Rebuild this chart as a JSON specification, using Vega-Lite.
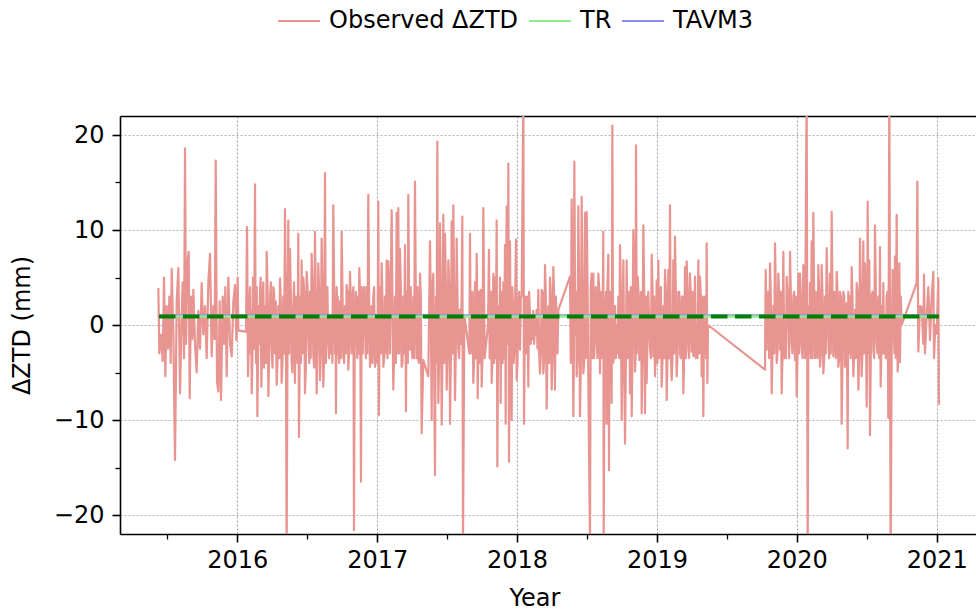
{
  "$schema": "https://vega.github.io/schema/vega-lite/v6.json",
  "width": 856,
  "height": 418,
  "autosize": {"type": "none"},
  "padding": {"left": 120, "top": 116, "right": 0, "bottom": 80},
  "background": "white",
  "config": {
    "view": {"stroke": null},
    "font": "DejaVu Sans",
    "axis": {"labelFont": "DejaVu Sans", "titleFont": "DejaVu Sans", "labelColor": "#000", "titleColor": "#000", "titleFontWeight": "normal", "domainColor": "#000", "tickColor": "#000"}
  },
  "datasets": {
    "obs": [
      {"year":2015.4356,"dztd":3.9},{"year":2015.4427,"dztd":-3.0},{"year":2015.4546,"dztd":-1.0},{"year":2015.4666,"dztd":-3.8},{"year":2015.4761,"dztd":5.0},{"year":2015.4856,"dztd":-5.4},{"year":2015.4952,"dztd":2.0},{"year":2015.5047,"dztd":-2.5},{"year":2015.5142,"dztd":3.0},{"year":2015.5238,"dztd":-4.0},{"year":2015.5309,"dztd":5.9},{"year":2015.5428,"dztd":-1.0},{"year":2015.5547,"dztd":-14.2},{"year":2015.5667,"dztd":2.5},{"year":2015.5786,"dztd":6.0},{"year":2015.5905,"dztd":-7.2},{"year":2015.6024,"dztd":1.0},{"year":2015.6096,"dztd":4.5},{"year":2015.6191,"dztd":-3.5},{"year":2015.6262,"dztd":18.6},{"year":2015.6334,"dztd":-2.0},{"year":2015.6429,"dztd":6.5},{"year":2015.6525,"dztd":7.7},{"year":2015.6596,"dztd":-7.7},{"year":2015.6691,"dztd":3.0},{"year":2015.6787,"dztd":-1.5},{"year":2015.6858,"dztd":3.7},{"year":2015.6977,"dztd":-2.0},{"year":2015.7096,"dztd":-5.0},{"year":2015.7216,"dztd":1.5},{"year":2015.7335,"dztd":-2.5},{"year":2015.7454,"dztd":4.4},{"year":2015.7573,"dztd":-1.0},{"year":2015.7692,"dztd":2.0},{"year":2015.7811,"dztd":-3.5},{"year":2015.7931,"dztd":4.5},{"year":2015.8050,"dztd":7.5},{"year":2015.8169,"dztd":-3.3},{"year":2015.8288,"dztd":2.0},{"year":2015.8383,"dztd":-1.5},{"year":2015.8455,"dztd":17.3},{"year":2015.8550,"dztd":-6.0},{"year":2015.8646,"dztd":-7.0},{"year":2015.8741,"dztd":2.5},{"year":2015.8836,"dztd":-7.9},{"year":2015.8955,"dztd":3.0},{"year":2015.9051,"dztd":-2.0},{"year":2015.9146,"dztd":4.0},{"year":2015.9241,"dztd":-5.4},{"year":2015.9361,"dztd":5.0},{"year":2015.9480,"dztd":-2.0},{"year":2015.9599,"dztd":-3.3},{"year":2015.9718,"dztd":2.5},{"year":2015.9837,"dztd":4.2},{"year":2015.9932,"dztd":-1.6},{"year":2016.0028,"dztd":5.0},{"year":2016.0075,"dztd":-0.6},{"year":2016.0624,"dztd":-0.7},{"year":2016.0695,"dztd":10.3},{"year":2016.0766,"dztd":-5.4},{"year":2016.0862,"dztd":2.0},{"year":2016.0957,"dztd":-3.0},{"year":2016.1029,"dztd":-7.2},{"year":2016.1124,"dztd":5.0},{"year":2016.1196,"dztd":-2.5},{"year":2016.1267,"dztd":14.8},{"year":2016.1339,"dztd":-4.0},{"year":2016.1434,"dztd":-9.6},{"year":2016.1529,"dztd":2.0},{"year":2016.1625,"dztd":3.7},{"year":2016.1720,"dztd":-6.5},{"year":2016.1815,"dztd":3.0},{"year":2016.1911,"dztd":-4.5},{"year":2016.2006,"dztd":2.0},{"year":2016.2101,"dztd":7.7},{"year":2016.2220,"dztd":-7.5},{"year":2016.2340,"dztd":3.0},{"year":2016.2459,"dztd":-2.5},{"year":2016.2578,"dztd":4.0},{"year":2016.2697,"dztd":-3.0},{"year":2016.2816,"dztd":-6.3},{"year":2016.2935,"dztd":2.0},{"year":2016.3054,"dztd":4.9},
      {"year":2016.3169,"dztd":-6.1},{"year":2016.3288,"dztd":3.0},{"year":2016.3407,"dztd":12.2},{"year":2016.3527,"dztd":-24},{"year":2016.3646,"dztd":11.0},{"year":2016.3765,"dztd":8.0},{"year":2016.3884,"dztd":-4.0},{"year":2016.4003,"dztd":2.0},{"year":2016.4122,"dztd":-6.1},{"year":2016.4242,"dztd":-2.0},{"year":2016.4361,"dztd":9.6},{"year":2016.4408,"dztd":-11.8},{"year":2016.4504,"dztd":3.0},{"year":2016.4599,"dztd":6.8},{"year":2016.4718,"dztd":5.0},{"year":2016.4837,"dztd":-7.2},{"year":2016.4957,"dztd":5.6},{"year":2016.5076,"dztd":-1.0},{"year":2016.5195,"dztd":3.5},{"year":2016.5314,"dztd":7.5},{"year":2016.5433,"dztd":-3.0},{"year":2016.5552,"dztd":9.8},{"year":2016.5672,"dztd":-7.2},{"year":2016.5791,"dztd":6.5},{"year":2016.5910,"dztd":-5.8},{"year":2016.6029,"dztd":9.1},{"year":2016.6148,"dztd":-6.5},{"year":2016.6267,"dztd":16.0},{"year":2016.6386,"dztd":3.0},{"year":2016.6506,"dztd":-2.0},{"year":2016.6625,"dztd":0.9},{"year":2016.6744,"dztd":1.0},{"year":2016.6863,"dztd":12.6},{"year":2016.6982,"dztd":-3.0},{"year":2016.7054,"dztd":-9.3},{"year":2016.7149,"dztd":2.0},{"year":2016.7221,"dztd":-2.6},{"year":2016.7340,"dztd":2.5},{"year":2016.7459,"dztd":9.8},{"year":2016.7578,"dztd":-3.3},{"year":2016.7697,"dztd":2.0},{"year":2016.7816,"dztd":4.2},{"year":2016.7936,"dztd":-4.7},{"year":2016.8055,"dztd":5.6},{"year":2016.8174,"dztd":-3.0},{"year":2016.8245,"dztd":3.0},{"year":2016.8341,"dztd":-21.6},{"year":2016.8436,"dztd":1.0},{"year":2016.8531,"dztd":0.0},{"year":2016.8627,"dztd":3.0},{"year":2016.8722,"dztd":6.0},{"year":2016.8841,"dztd":-16.5},{"year":2016.8937,"dztd":2.0},{"year":2016.9008,"dztd":2.5},{"year":2016.9127,"dztd":0.0},{"year":2016.9246,"dztd":4.0},{"year":2016.9365,"dztd":13.7},{"year":2016.9485,"dztd":-4.4},{"year":2016.9604,"dztd":2.0},{"year":2016.9723,"dztd":3.0},{"year":2016.9842,"dztd":-4.4},{"year":2016.9961,"dztd":1.0},{"year":2017.0080,"dztd":13.0},{"year":2017.0128,"dztd":-9.5},{"year":2017.0223,"dztd":2.0},{"year":2017.0319,"dztd":6.5},{"year":2017.0438,"dztd":-4.4},{"year":2017.0557,"dztd":3.0},{"year":2017.0676,"dztd":6.8},{"year":2017.0795,"dztd":6.7},{"year":2017.0915,"dztd":-3.0},{"year":2017.1034,"dztd":12.1},{"year":2017.1153,"dztd":-6.8},{"year":2017.1272,"dztd":3.0},{"year":2017.1391,"dztd":11.8},{"year":2017.1510,"dztd":12.3},{"year":2017.1630,"dztd":8.0},{"year":2017.1749,"dztd":-4.4},{"year":2017.1868,"dztd":3.0},{"year":2017.1987,"dztd":8.4},{"year":2017.2058,"dztd":-9.1},{"year":2017.2154,"dztd":2.0},{"year":2017.2225,"dztd":13.7},{"year":2017.2344,"dztd":-2.6},
      {"year":2017.2465,"dztd":-2.3},{"year":2017.2584,"dztd":3.0},{"year":2017.2703,"dztd":15.1},{"year":2017.2823,"dztd":-3.5},{"year":2017.2942,"dztd":-3.7},{"year":2017.3061,"dztd":5.4},{"year":2017.3180,"dztd":-11.4},{"year":2017.3299,"dztd":-3.7},{"year":2017.3657,"dztd":-5.4},{"year":2017.3776,"dztd":8.8},{"year":2017.3895,"dztd":-10.0},{"year":2017.4014,"dztd":5.4},{"year":2017.4133,"dztd":-15.8},{"year":2017.4205,"dztd":3.0},{"year":2017.4300,"dztd":19.3},{"year":2017.4372,"dztd":-8.2},{"year":2017.4491,"dztd":10.7},{"year":2017.4610,"dztd":-10.5},{"year":2017.4729,"dztd":11.6},{"year":2017.4848,"dztd":9.6},{"year":2017.4968,"dztd":-6.8},{"year":2017.5087,"dztd":6.8},{"year":2017.5206,"dztd":-10.4},{"year":2017.5325,"dztd":10.9},{"year":2017.5444,"dztd":12.6},{"year":2017.5563,"dztd":-7.9},{"year":2017.5682,"dztd":9.1},{"year":2017.5802,"dztd":-2.6},{"year":2017.5921,"dztd":1.6},{"year":2017.6040,"dztd":3.0},{"year":2017.6088,"dztd":11.4},{"year":2017.6135,"dztd":-23},{"year":2017.6231,"dztd":1.0},{"year":2017.6326,"dztd":0.0},{"year":2017.6588,"dztd":-3.0},{"year":2017.6636,"dztd":9.6},{"year":2017.6755,"dztd":2.0},{"year":2017.6874,"dztd":-6.1},{"year":2017.6993,"dztd":4.5},{"year":2017.7112,"dztd":7.5},{"year":2017.7184,"dztd":-7.7},{"year":2017.7279,"dztd":3.5},{"year":2017.7398,"dztd":3.7},{"year":2017.7470,"dztd":-6.5},{"year":2017.7589,"dztd":12.3},{"year":2017.7684,"dztd":-3.5},{"year":2017.7923,"dztd":0.0},{"year":2017.7994,"dztd":7.9},{"year":2017.8090,"dztd":2.0},{"year":2017.8185,"dztd":-6.1},{"year":2017.8304,"dztd":5.4},{"year":2017.8423,"dztd":5.0},{"year":2017.8542,"dztd":11.0},{"year":2017.8590,"dztd":-14.9},{"year":2017.8685,"dztd":2.0},{"year":2017.8781,"dztd":5.0},{"year":2017.8828,"dztd":-8.2},{"year":2017.8924,"dztd":2.0},{"year":2017.9019,"dztd":4.5},{"year":2017.9138,"dztd":8.4},{"year":2017.9186,"dztd":-10.4},{"year":2017.9257,"dztd":12.5},{"year":2017.9329,"dztd":-2.0},{"year":2017.9376,"dztd":17.0},{"year":2017.9424,"dztd":-14.4},{"year":2017.9496,"dztd":8.8},{"year":2017.9615,"dztd":-10.0},{"year":2017.9710,"dztd":2.0},{"year":2017.9805,"dztd":-3.0},{"year":2017.9925,"dztd":9.0},{"year":2017.9972,"dztd":-5.8},{"year":2018.0091,"dztd":2.0},{"year":2018.0211,"dztd":-2.6},{"year":2018.0330,"dztd":3.0},{"year":2018.0449,"dztd":24},{"year":2018.0497,"dztd":-10.4},{"year":2018.0592,"dztd":3.0},{"year":2018.0687,"dztd":2.3},{"year":2018.0806,"dztd":-6.5},{"year":2018.0926,"dztd":1.0},{"year":2018.1045,"dztd":0.9},{"year":2018.1164,"dztd":1.5},{"year":2018.1283,"dztd":0.5},{"year":2018.1402,"dztd":1.6},{"year":2018.1521,"dztd":3.7},
      {"year":2018.1640,"dztd":-5.1},{"year":2018.1759,"dztd":3.7},{"year":2018.1878,"dztd":-5.1},{"year":2018.1997,"dztd":6.3},{"year":2018.2117,"dztd":-8.8},{"year":2018.2236,"dztd":2.0},{"year":2018.2355,"dztd":5.0},{"year":2018.2474,"dztd":-6.8},{"year":2018.2593,"dztd":6.1},{"year":2018.2712,"dztd":-6.8},{"year":2018.2832,"dztd":1.0},{"year":2018.2951,"dztd":1.6},{"year":2018.3785,"dztd":5.1},{"year":2018.3904,"dztd":13.2},{"year":2018.4023,"dztd":-9.6},{"year":2018.4095,"dztd":17.2},{"year":2018.4190,"dztd":-1.0},{"year":2018.4262,"dztd":-5.4},{"year":2018.4381,"dztd":12.5},{"year":2018.4500,"dztd":-9.6},{"year":2018.4619,"dztd":13.5},{"year":2018.4738,"dztd":-5.1},{"year":2018.4857,"dztd":11.8},{"year":2018.4976,"dztd":11.9},{"year":2018.5096,"dztd":-5.8},{"year":2018.5215,"dztd":-23},{"year":2018.5334,"dztd":5.4},{"year":2018.5453,"dztd":5.4},{"year":2018.5572,"dztd":2.0},{"year":2018.5691,"dztd":-2.0},{"year":2018.5811,"dztd":5.4},{"year":2018.5930,"dztd":-5.1},{"year":2018.6049,"dztd":-2.6},{"year":2018.6168,"dztd":9.8},{"year":2018.6192,"dztd":-23},{"year":2018.6311,"dztd":2.0},{"year":2018.6406,"dztd":-10.4},{"year":2018.6526,"dztd":7.4},{"year":2018.6573,"dztd":-15.3},{"year":2018.6669,"dztd":2.0},{"year":2018.6764,"dztd":-8.2},{"year":2018.6812,"dztd":21.0},{"year":2018.6883,"dztd":-4.0},{"year":2018.7002,"dztd":2.0},{"year":2018.7121,"dztd":0.0},{"year":2018.7241,"dztd":3.0},{"year":2018.7360,"dztd":8.4},{"year":2018.7479,"dztd":-10.0},{"year":2018.7598,"dztd":6.8},{"year":2018.7717,"dztd":-12.5},{"year":2018.7836,"dztd":6.8},{"year":2018.7955,"dztd":2.0},{"year":2018.8075,"dztd":-7.2},{"year":2018.8194,"dztd":-9.6},{"year":2018.8313,"dztd":10.0},{"year":2018.8432,"dztd":-4.9},{"year":2018.8504,"dztd":18.9},{"year":2018.8623,"dztd":5.1},{"year":2018.8742,"dztd":-3.7},{"year":2018.8837,"dztd":3.0},{"year":2018.8909,"dztd":-9.3},{"year":2018.9028,"dztd":10.5},{"year":2018.9147,"dztd":-9.3},{"year":2018.9266,"dztd":-6.1},{"year":2018.9505,"dztd":-2.5},{"year":2018.9624,"dztd":7.4},{"year":2018.9743,"dztd":-3.3},{"year":2018.9862,"dztd":-5.4},{"year":2018.9981,"dztd":4.7},{"year":2019.0100,"dztd":6.8},{"year":2019.0220,"dztd":1.0},{"year":2019.0339,"dztd":-6.5},{"year":2019.0458,"dztd":2.0},{"year":2019.0577,"dztd":5.8},{"year":2019.0696,"dztd":-7.9},{"year":2019.0815,"dztd":5.8},{"year":2019.0934,"dztd":12.6},
      {"year":2019.1053,"dztd":-5.8},{"year":2019.1172,"dztd":6.8},{"year":2019.1291,"dztd":9.3},{"year":2019.1411,"dztd":-5.4},{"year":2019.1530,"dztd":3.5},{"year":2019.1649,"dztd":-3.0},{"year":2019.1768,"dztd":3.0},{"year":2019.1887,"dztd":-7.2},{"year":2019.2006,"dztd":6.1},{"year":2019.2126,"dztd":6.7},{"year":2019.2245,"dztd":-2.5},{"year":2019.2364,"dztd":5.4},{"year":2019.2483,"dztd":-2.8},{"year":2019.2602,"dztd":-3.3},{"year":2019.2721,"dztd":5.1},{"year":2019.2841,"dztd":0.0},{"year":2019.2960,"dztd":6.8},{"year":2019.3079,"dztd":5.1},{"year":2019.3198,"dztd":-5.4},{"year":2019.3317,"dztd":-9.6},{"year":2019.3389,"dztd":2.6},{"year":2019.3484,"dztd":-2.0},{"year":2019.3556,"dztd":8.6},{"year":2019.3603,"dztd":-6.1},{"year":2019.3651,"dztd":0.0},{"year":2019.7726,"dztd":-4.7},{"year":2019.7774,"dztd":5.8},{"year":2019.7845,"dztd":-2.6},{"year":2019.7964,"dztd":3.5},{"year":2019.8084,"dztd":6.5},{"year":2019.8203,"dztd":-7.2},{"year":2019.8322,"dztd":2.0},{"year":2019.8441,"dztd":8.6},{"year":2019.8560,"dztd":-4.0},{"year":2019.8679,"dztd":5.4},{"year":2019.8799,"dztd":-2.6},{"year":2019.8918,"dztd":-7.2},{"year":2019.9037,"dztd":7.7},{"year":2019.9156,"dztd":0.0},{"year":2019.9275,"dztd":5.1},{"year":2019.9394,"dztd":0.5},{"year":2019.9514,"dztd":7.7},{"year":2019.9633,"dztd":-2.0},{"year":2019.9752,"dztd":3.0},{"year":2019.9871,"dztd":-3.7},{"year":2019.9990,"dztd":-7.5},{"year":2020.0109,"dztd":5.4},{"year":2020.0228,"dztd":5.4},
      {"year":2020.0346,"dztd":-2.3},{"year":2020.0465,"dztd":6.3},{"year":2020.0584,"dztd":-3.5},{"year":2020.0704,"dztd":25},{"year":2020.0775,"dztd":-25},{"year":2020.0870,"dztd":2.0},{"year":2020.0942,"dztd":4.4},{"year":2020.1061,"dztd":8.8},{"year":2020.1180,"dztd":11.8},{"year":2020.1299,"dztd":-3.5},{"year":2020.1419,"dztd":-3.0},{"year":2020.1538,"dztd":6.3},{"year":2020.1657,"dztd":-4.4},{"year":2020.1776,"dztd":6.3},{"year":2020.1895,"dztd":-5.1},{"year":2020.2014,"dztd":3.0},{"year":2020.2134,"dztd":8.1},{"year":2020.2253,"dztd":-1.6},{"year":2020.2372,"dztd":5.4},{"year":2020.2491,"dztd":11.9},{"year":2020.2610,"dztd":-3.3},{"year":2020.2729,"dztd":-0.7},{"year":2020.2849,"dztd":5.6},{"year":2020.2968,"dztd":-4.4},{"year":2020.3087,"dztd":3.5},{"year":2020.3206,"dztd":-10.4},{"year":2020.3325,"dztd":3.5},{"year":2020.3444,"dztd":-4.4},{"year":2020.3563,"dztd":2.3},{"year":2020.3635,"dztd":-13.0},{"year":2020.3730,"dztd":2.0},{"year":2020.3802,"dztd":3.0},{"year":2020.3921,"dztd":6.1},{"year":2020.4040,"dztd":-5.4},{"year":2020.4159,"dztd":1.6},{"year":2020.4278,"dztd":4.4},{"year":2020.4398,"dztd":-6.8},{"year":2020.4517,"dztd":9.1},{"year":2020.4636,"dztd":-5.4},{"year":2020.4755,"dztd":8.8},{"year":2020.4874,"dztd":6.5},{"year":2020.4993,"dztd":-8.6},{"year":2020.5065,"dztd":13.0},{"year":2020.5184,"dztd":6.8},{"year":2020.5232,"dztd":-11.6},{"year":2020.5351,"dztd":3.2},{"year":2020.5470,"dztd":-2.6},{"year":2020.5589,"dztd":10.5},{"year":2020.5708,"dztd":-1.9},{"year":2020.5828,"dztd":3.0},{"year":2020.5947,"dztd":8.2},{"year":2020.5994,"dztd":-6.5},{"year":2020.6090,"dztd":2.0},{"year":2020.6185,"dztd":4.4},{"year":2020.6304,"dztd":0.9},{"year":2020.6423,"dztd":3.0},{"year":2020.6542,"dztd":-9.8},{"year":2020.6614,"dztd":25},{"year":2020.6709,"dztd":-25},{"year":2020.6852,"dztd":5.8},{"year":2020.6948,"dztd":-1.0},{"year":2020.7019,"dztd":7.2},{"year":2020.7138,"dztd":11.6},{"year":2020.7210,"dztd":-4.9},{"year":2020.7329,"dztd":6.5},{"year":2020.7377,"dztd":-3.9},{"year":2020.7496,"dztd":0.0},{"year":2020.8568,"dztd":4.4},{"year":2020.8616,"dztd":15.1},{"year":2020.8687,"dztd":-2.8},{"year":2020.8807,"dztd":2.0},{"year":2020.8926,"dztd":1.9},{"year":2020.9045,"dztd":-2.0},{"year":2020.9093,"dztd":5.3},{"year":2020.9164,"dztd":-3.0},{"year":2020.9283,"dztd":1.0},{"year":2020.9402,"dztd":4.0},{"year":2020.9521,"dztd":-1.6},{"year":2020.9641,"dztd":3.0},{"year":2020.9760,"dztd":5.6},{"year":2020.9807,"dztd":-3.5},{"year":2020.9903,"dztd":0.0},{"year":2020.9998,"dztd":-0.9},{"year":2021.0117,"dztd":4.9},{"year":2021.0165,"dztd":-8.4},
      {"year":2016.073,"dztd":3.0},{"year":2016.081,"dztd":-2.5},{"year":2016.091,"dztd":4.0},{"year":2016.099,"dztd":1.5},{"year":2016.108,"dztd":-3.5},{"year":2016.116,"dztd":3.0},{"year":2016.123,"dztd":5.0},{"year":2016.130,"dztd":2.0},{"year":2016.139,"dztd":4.0},{"year":2016.148,"dztd":-4.0},{"year":2016.158,"dztd":-2.0},{"year":2016.167,"dztd":5.0},{"year":2016.176,"dztd":-3.0},{"year":2016.186,"dztd":4.5},{"year":2016.196,"dztd":-1.5},{"year":2016.205,"dztd":-4.0},{"year":2016.216,"dztd":4.0},{"year":2016.228,"dztd":-3.0},{"year":2016.240,"dztd":4.5},{"year":2016.252,"dztd":-4.5},{"year":2016.263,"dztd":3.5},{"year":2016.275,"dztd":2.5},{"year":2016.287,"dztd":-4.0},{"year":2016.299,"dztd":-3.5},{"year":2016.311,"dztd":2.5},{"year":2016.323,"dztd":-4.0},{"year":2016.335,"dztd":-3.0},{"year":2016.347,"dztd":4.0},{"year":2016.358,"dztd":-5.0},{"year":2016.370,"dztd":-3.0},{"year":2016.382,"dztd":4.0},{"year":2016.394,"dztd":-5.0},{"year":2016.406,"dztd":4.5},{"year":2016.418,"dztd":3.0},{"year":2016.430,"dztd":-4.0},{"year":2016.438,"dztd":3.0},{"year":2016.446,"dztd":-3.0},{"year":2016.455,"dztd":-4.0},{"year":2016.466,"dztd":-3.0},{"year":2016.478,"dztd":3.5},{"year":2016.490,"dztd":-4.5},{"year":2016.502,"dztd":4.0},{"year":2016.514,"dztd":-4.0},{"year":2016.525,"dztd":-3.5},{"year":2016.537,"dztd":4.5},{"year":2016.549,"dztd":-4.5},{"year":2016.561,"dztd":3.0},{"year":2016.573,"dztd":-2.0},{"year":2016.585,"dztd":3.5},{"year":2016.597,"dztd":-3.0},{"year":2016.609,"dztd":3.5},{"year":2016.621,"dztd":-3.5},{"year":2016.633,"dztd":-4.0},{"year":2016.644,"dztd":4.0},{"year":2016.656,"dztd":-3.5},{"year":2016.668,"dztd":-3.0},{"year":2016.680,"dztd":-4.0},{"year":2016.692,"dztd":4.5},{"year":2016.702,"dztd":3.0},{"year":2016.710,"dztd":4.0},{"year":2016.718,"dztd":3.0},{"year":2016.728,"dztd":-4.0},{"year":2016.740,"dztd":-3.5},{"year":2016.752,"dztd":3.5},{"year":2016.764,"dztd":-4.0},{"year":2016.776,"dztd":-3.0},{"year":2016.788,"dztd":3.5},{"year":2016.800,"dztd":-2.5},{"year":2016.811,"dztd":3.0},{"year":2016.821,"dztd":-3.0},{"year":2016.830,"dztd":4.0},{"year":2016.839,"dztd":-3.0},{"year":2016.848,"dztd":3.5},{"year":2016.858,"dztd":-3.5},{"year":2016.867,"dztd":-3.0},{"year":2016.878,"dztd":3.0},{"year":2016.889,"dztd":4.0},{"year":2016.897,"dztd":-3.0},{"year":2016.907,"dztd":4.0},{"year":2016.919,"dztd":-3.5},{"year":2016.930,"dztd":-3.0},{"year":2016.942,"dztd":3.5},{"year":2016.954,"dztd":-3.5},{"year":2016.966,"dztd":-4.0},{"year":2016.978,"dztd":4.0},{"year":2016.990,"dztd":-3.5},{"year":2017.002,"dztd":-4.0},{"year":2017.018,"dztd":4.0},{"year":2017.027,"dztd":-3.0},{"year":2017.038,"dztd":2.5},{"year":2017.050,"dztd":-3.5},{"year":2017.062,"dztd":-3.0},{"year":2017.074,"dztd":-3.5},{"year":2017.085,"dztd":4.0},{"year":2017.097,"dztd":4.0},{"year":2017.109,"dztd":3.0},{"year":2017.121,"dztd":-3.0},{"year":2017.133,"dztd":-4.0},{"year":2017.145,"dztd":-3.0},{"year":2017.157,"dztd":-3.0},{"year":2017.169,"dztd":4.0},{"year":2017.181,"dztd":-4.0},{"year":2017.193,"dztd":-3.0},{"year":2017.202,"dztd":3.0},{"year":2017.210,"dztd":3.5},{"year":2017.219,"dztd":-4.0},{"year":2017.228,"dztd":3.5},{"year":2017.240,"dztd":4.0},{"year":2017.252,"dztd":-3.5},{"year":2017.264,"dztd":-3.5},{"year":2017.276,"dztd":3.0},{"year":2017.288,"dztd":4.0},{"year":2017.300,"dztd":-4.0},{"year":2017.312,"dztd":3.0},
      {"year":2017.383,"dztd":3.0},{"year":2017.395,"dztd":4.0},{"year":2017.407,"dztd":-4.0},{"year":2017.417,"dztd":-3.0},{"year":2017.425,"dztd":-4.0},{"year":2017.433,"dztd":3.0},{"year":2017.443,"dztd":-3.5},{"year":2017.455,"dztd":3.5},{"year":2017.467,"dztd":-3.0},{"year":2017.479,"dztd":-4.0},{"year":2017.491,"dztd":4.0},{"year":2017.503,"dztd":-3.0},{"year":2017.515,"dztd":4.0},{"year":2017.527,"dztd":-3.5},{"year":2017.539,"dztd":-3.0},{"year":2017.550,"dztd":3.5},{"year":2017.562,"dztd":-3.0},{"year":2017.574,"dztd":3.0},{"year":2017.586,"dztd":-3.5},{"year":2017.598,"dztd":-2.0},{"year":2017.669,"dztd":-3.0},{"year":2017.681,"dztd":3.5},{"year":2017.693,"dztd":-3.5},{"year":2017.705,"dztd":-3.5},{"year":2017.715,"dztd":3.0},{"year":2017.723,"dztd":-3.0},{"year":2017.734,"dztd":-4.0},{"year":2017.743,"dztd":3.5},{"year":2017.753,"dztd":-3.0},{"year":2017.764,"dztd":3.5},{"year":2017.804,"dztd":-3.5},{"year":2017.814,"dztd":3.5},{"year":2017.824,"dztd":-3.5},{"year":2017.836,"dztd":-4.0},{"year":2017.848,"dztd":-3.5},{"year":2017.864,"dztd":-3.0},{"year":2017.873,"dztd":-3.5},{"year":2017.887,"dztd":3.5},{"year":2017.897,"dztd":-4.0},{"year":2017.908,"dztd":-3.5},{"year":2017.922,"dztd":3.0},{"year":2017.935,"dztd":4.0},{"year":2017.946,"dztd":-3.0},{"year":2017.955,"dztd":-3.5},{"year":2017.966,"dztd":4.0},{"year":2017.976,"dztd":-4.0},{"year":2017.987,"dztd":3.0},{"year":2017.995,"dztd":3.0},{"year":2018.003,"dztd":-4.0},{"year":2018.015,"dztd":3.5},{"year":2018.027,"dztd":3.0},{"year":2018.054,"dztd":-3.0},{"year":2018.064,"dztd":-3.0},{"year":2018.074,"dztd":3.0},{"year":2018.086,"dztd":3.5},{"year":2018.098,"dztd":-2.0},{"year":2018.110,"dztd":-1.5},{"year":2018.122,"dztd":-2.0},{"year":2018.134,"dztd":-1.0},{"year":2018.146,"dztd":-2.5},{"year":2018.158,"dztd":-3.0},{"year":2018.170,"dztd":-3.0},{"year":2018.182,"dztd":3.5},{"year":2018.194,"dztd":-3.5},{"year":2018.205,"dztd":3.5},{"year":2018.217,"dztd":-3.0},{"year":2018.229,"dztd":-4.0},{"year":2018.241,"dztd":3.5},{"year":2018.253,"dztd":-3.5},{"year":2018.265,"dztd":3.0},{"year":2018.277,"dztd":3.0},{"year":2018.289,"dztd":-3.0},
      {"year":2018.384,"dztd":-4.0},{"year":2018.396,"dztd":4.0},{"year":2018.406,"dztd":-4.0},{"year":2018.414,"dztd":4.0},{"year":2018.422,"dztd":3.5},{"year":2018.432,"dztd":-3.5},{"year":2018.444,"dztd":3.5},{"year":2018.456,"dztd":-4.0},{"year":2018.468,"dztd":3.5},{"year":2018.480,"dztd":-4.0},{"year":2018.492,"dztd":-3.5},{"year":2018.504,"dztd":4.0},{"year":2018.527,"dztd":4.0},{"year":2018.539,"dztd":-3.5},{"year":2018.551,"dztd":-3.5},{"year":2018.563,"dztd":4.0},{"year":2018.575,"dztd":-3.5},{"year":2018.587,"dztd":4.0},{"year":2018.599,"dztd":3.5},{"year":2018.610,"dztd":-3.5},{"year":2018.625,"dztd":-3.5},{"year":2018.636,"dztd":3.5},{"year":2018.646,"dztd":4.0},{"year":2018.662,"dztd":3.5},{"year":2018.672,"dztd":3.5},{"year":2018.685,"dztd":3.0},{"year":2018.694,"dztd":-3.0},{"year":2018.706,"dztd":-3.5},{"year":2018.718,"dztd":-3.0},{"year":2018.730,"dztd":-3.5},{"year":2018.742,"dztd":3.5},{"year":2018.754,"dztd":-3.0},{"year":2018.766,"dztd":-3.0},{"year":2018.778,"dztd":-4.0},{"year":2018.790,"dztd":-3.5},{"year":2018.801,"dztd":3.5},{"year":2018.813,"dztd":4.0},{"year":2018.825,"dztd":-3.0},{"year":2018.838,"dztd":3.5},{"year":2018.847,"dztd":-3.5},{"year":2018.856,"dztd":-3.0},{"year":2018.868,"dztd":3.5},{"year":2018.879,"dztd":-3.5},{"year":2018.887,"dztd":3.5},{"year":2018.897,"dztd":-3.0},{"year":2018.909,"dztd":3.5},{"year":2018.921,"dztd":3.0},{"year":2018.938,"dztd":3.5},{"year":2018.957,"dztd":-3.5},{"year":2018.969,"dztd":3.5},{"year":2018.980,"dztd":3.0},{"year":2018.992,"dztd":-3.0},{"year":2019.004,"dztd":-4.0},{"year":2019.016,"dztd":-3.5},{"year":2019.028,"dztd":4.0},{"year":2019.040,"dztd":-3.5},{"year":2019.052,"dztd":-3.5},{"year":2019.064,"dztd":3.5},{"year":2019.076,"dztd":-3.0},{"year":2019.087,"dztd":-3.5},{"year":2019.099,"dztd":-3.0},{"year":2019.111,"dztd":-3.5},{"year":2019.123,"dztd":-3.0},{"year":2019.135,"dztd":3.5},{"year":2019.147,"dztd":-3.0},{"year":2019.159,"dztd":3.5},{"year":2019.171,"dztd":-3.5},{"year":2019.183,"dztd":3.0},{"year":2019.195,"dztd":-3.0},{"year":2019.207,"dztd":-3.5},{"year":2019.219,"dztd":3.5},{"year":2019.230,"dztd":-3.5},{"year":2019.242,"dztd":3.0},{"year":2019.254,"dztd":3.5},{"year":2019.266,"dztd":-3.0},{"year":2019.278,"dztd":-3.5},{"year":2019.290,"dztd":-3.5},{"year":2019.302,"dztd":-3.0},{"year":2019.314,"dztd":3.0},{"year":2019.326,"dztd":3.0},{"year":2019.335,"dztd":-3.0},{"year":2019.344,"dztd":3.0},{"year":2019.352,"dztd":-3.5},
      {"year":2019.781,"dztd":3.0},{"year":2019.790,"dztd":3.0},{"year":2019.802,"dztd":-3.5},{"year":2019.814,"dztd":3.0},{"year":2019.826,"dztd":-3.0},{"year":2019.838,"dztd":-3.0},{"year":2019.850,"dztd":3.5},{"year":2019.862,"dztd":-3.0},{"year":2019.874,"dztd":3.0},{"year":2019.886,"dztd":3.5},{"year":2019.898,"dztd":-3.0},{"year":2019.910,"dztd":-3.5},{"year":2019.922,"dztd":-3.5},{"year":2019.933,"dztd":3.5},{"year":2019.945,"dztd":-3.5},{"year":2019.957,"dztd":3.5},{"year":2019.969,"dztd":-3.0},{"year":2019.981,"dztd":3.5},{"year":2019.993,"dztd":3.0},{"year":2020.005,"dztd":-3.5},{"year":2020.017,"dztd":-3.0},{"year":2020.029,"dztd":3.0},{"year":2020.041,"dztd":-3.5},{"year":2020.052,"dztd":3.5},{"year":2020.082,"dztd":-3.0},{"year":2020.090,"dztd":-3.0},{"year":2020.100,"dztd":-3.5},{"year":2020.112,"dztd":-3.5},{"year":2020.124,"dztd":3.0},{"year":2020.136,"dztd":3.5},{"year":2020.148,"dztd":-3.5},{"year":2020.160,"dztd":3.5},{"year":2020.172,"dztd":-3.0},{"year":2020.184,"dztd":3.0},{"year":2020.196,"dztd":-3.5},{"year":2020.207,"dztd":-3.0},{"year":2020.219,"dztd":3.5},{"year":2020.231,"dztd":-3.5},{"year":2020.243,"dztd":-3.0},{"year":2020.255,"dztd":3.0},{"year":2020.267,"dztd":3.5},{"year":2020.279,"dztd":-3.5},{"year":2020.291,"dztd":3.5},{"year":2020.303,"dztd":-3.5},{"year":2020.315,"dztd":3.0},{"year":2020.327,"dztd":-3.0},{"year":2020.339,"dztd":3.0},{"year":2020.350,"dztd":-3.0},{"year":2020.368,"dztd":3.5},{"year":2020.377,"dztd":-3.0},{"year":2020.386,"dztd":-3.5},{"year":2020.398,"dztd":3.0},{"year":2020.410,"dztd":-3.0},{"year":2020.422,"dztd":-3.5},{"year":2020.434,"dztd":3.5},{"year":2020.446,"dztd":-3.5},{"year":2020.458,"dztd":3.5},{"year":2020.469,"dztd":-3.0},{"year":2020.481,"dztd":-3.0},{"year":2020.493,"dztd":3.0},{"year":2020.503,"dztd":-3.5},{"year":2020.512,"dztd":-3.0},{"year":2020.529,"dztd":-3.0},{"year":2020.541,"dztd":3.5},{"year":2020.553,"dztd":-3.5},{"year":2020.565,"dztd":3.5},{"year":2020.577,"dztd":-3.0},{"year":2020.589,"dztd":-3.5},{"year":2020.604,"dztd":-3.0},{"year":2020.614,"dztd":-3.0},{"year":2020.624,"dztd":-3.0},{"year":2020.636,"dztd":-3.5},{"year":2020.648,"dztd":3.5},{"year":2020.678,"dztd":-3.0},{"year":2020.690,"dztd":3.5},{"year":2020.698,"dztd":-3.0},{"year":2020.708,"dztd":-3.5},{"year":2020.717,"dztd":3.0},{"year":2020.727,"dztd":-3.0},{"year":2020.735,"dztd":3.0},{"year":2020.743,"dztd":3.0}
    ],
    "tavm3": [{"year":2015.44,"dztd":1.0},{"year":2021.016,"dztd":1.0}],
    "tr": [{"year":2015.44,"dztd":0.9},{"year":2021.016,"dztd":0.9}]
  },
  "resolve": {"axis": {"x": "independent", "y": "independent"}},
  "layer": [
    {
      "data": {"name": "obs"},
      "mark": {"type": "line", "strokeWidth": 2.2, "strokeJoin": "round", "clip": true},
      "encoding": {
        "x": {"field": "year", "type": "quantitative",
          "scale": {"domain": [2015.1614, 2021.281], "nice": false, "zero": false},
          "axis": {"orient": "bottom", "values": [2016, 2017, 2018, 2019, 2020, 2021], "format": "d", "labelFontSize": 24, "labelPadding": 6, "tickSize": 8, "tickWidth": 1.6, "domainWidth": 1.6, "grid": true, "gridColor": "#888", "gridWidth": 0.8, "gridDash": [2, 2], "title": "Year", "titleFontSize": 24, "titleX": 414.5, "titleY": 71, "titleBaseline": "alphabetic", "titleAlign": "center"}},
        "y": {"field": "dztd", "type": "quantitative",
          "scale": {"domain": [-22, 22], "nice": false, "zero": false},
          "axis": {"orient": "left", "values": [-20, -10, 0, 10, 20], "format": "d", "labelFontSize": 24, "labelPadding": 8, "tickSize": 8, "tickWidth": 1.6, "domainWidth": 1.6, "grid": true, "gridColor": "#a8a8a8", "gridWidth": 0.9, "gridDash": [2, 2], "title": "ΔZTD (mm)", "titleFontSize": 24, "titleAngle": -90, "titleX": -91, "titleY": 209, "titleBaseline": "alphabetic", "titleAlign": "center"}},
        "color": {"datum": "Observed ΔZTD",
          "scale": {"domain": ["Observed ΔZTD", "TR", "TAVM3"], "range": ["#e89490", "#90e890", "#8c8cf0"]},
          "legend": {"orient": "none", "legendX": 157, "legendY": -117, "direction": "horizontal", "columns": 3, "title": null, "symbolType": "stroke", "symbolSize": 1764, "symbolStrokeWidth": 2, "labelFontSize": 24, "labelFont": "DejaVu Sans", "labelColor": "#000", "labelOffset": 8, "labelLimit": 500, "columnPadding": 6}}
      }
    },
    {
      "data": {"name": "tavm3"},
      "mark": {"type": "line", "strokeWidth": 2.5},
      "encoding": {
        "x": {"field": "year", "type": "quantitative",
          "axis": {"orient": "bottom", "values": [2015.5, 2016.5, 2017.5, 2018.5, 2019.5, 2020.5], "labels": false, "domain": false, "grid": false, "tickSize": 5, "tickWidth": 1.3, "title": null}},
        "y": {"field": "dztd", "type": "quantitative",
          "axis": {"orient": "left", "values": [-15, -5, 5, 15], "labels": false, "domain": false, "grid": false, "tickSize": 5, "tickWidth": 1.3, "title": null}},
        "color": {"datum": "TAVM3"}
      }
    },
    {
      "data": {"name": "tr"},
      "mark": {"type": "line", "strokeWidth": 2.5},
      "encoding": {
        "x": {"field": "year", "type": "quantitative",
          "axis": {"orient": "top", "labels": false, "ticks": false, "grid": false, "domain": true, "domainWidth": 1.6, "title": null}},
        "y": {"field": "dztd", "type": "quantitative", "axis": null},
        "color": {"datum": "TR"}
      }
    },
    {
      "data": {"name": "tr"},
      "mark": {"type": "line", "strokeWidth": 4, "color": "#008000", "strokeDash": [16.5, 7.5]},
      "encoding": {
        "x": {"field": "year", "type": "quantitative", "axis": null},
        "y": {"field": "dztd", "type": "quantitative", "axis": null}
      }
    }
  ]
}
